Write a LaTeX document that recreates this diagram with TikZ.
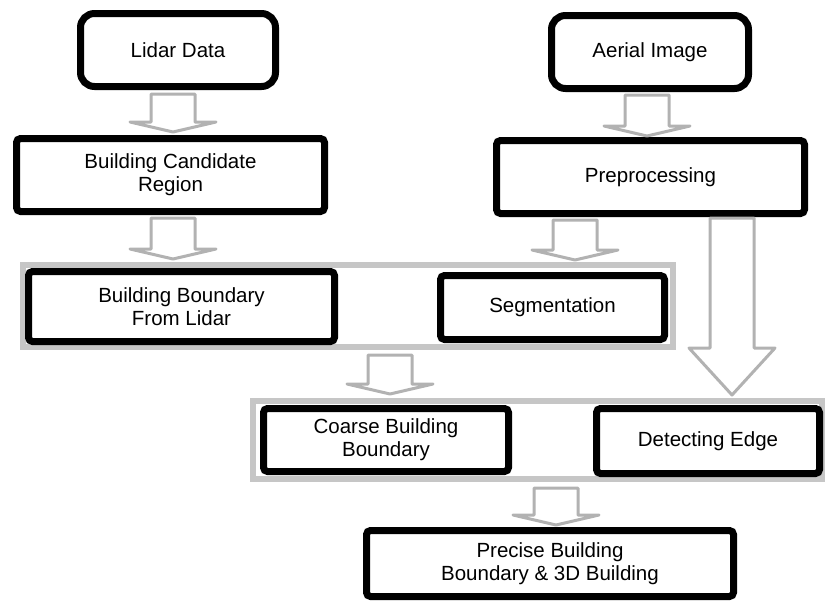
\documentclass[tikz,border=0pt]{standalone}
\usepackage{fontspec}
\setmainfont{Liberation Sans}
\usetikzlibrary{calc}

\tikzset{
  srcbox/.style={draw, line width=7pt, fill=white, rounded corners=14pt, align=center, inner sep=0pt},
  procbox/.style={draw, line width=7pt, fill=white, rounded corners=4pt, align=center, inner sep=0pt},
  band/.style={draw=gray!45, line width=6pt, inner sep=0pt},
  fatarrow/.style={draw=gray!60, line width=3pt, fill=white, line join=round,
    to path={let \p1=(\tikztostart), \p2=(\tikztotarget) in
      (\x1-22pt,\y1) -- (\x1+22pt,\y1) -- (\x1+22pt,\y2+#1) -- (\x1+43pt,\y2+#1)
      -- (\x1,\y2) -- (\x1-43pt,\y2+#1) -- (\x1-22pt,\y2+#1) -- cycle}},
  fatarrow/.default=10pt
}

\begin{document}
\begin{tikzpicture}[x=1pt,y=-1pt,font=\fontsize{20.5}{23}\selectfont]
  \useasboundingbox (0,0) rectangle (825,603);

  % gray frames round the two middle rows
  \node[band, minimum width=650pt, minimum height=82pt] (grp1) at (348,306) {};
  \node[band, minimum width=569pt, minimum height=78pt] (grp2) at (537.5,440) {};

  % input data
  \node[srcbox, minimum width=195pt, minimum height=73pt] (lidar) at (178,50) {Lidar Data};
  \node[srcbox, minimum width=197pt, minimum height=73pt] (aerial) at (650,52) {Aerial Image};

  % processing steps
  \node[procbox, minimum width=308pt, minimum height=73pt] (bcr) at (170.5,175) {Building Candidate\\Region};
  \node[procbox, minimum width=308pt, minimum height=73pt] (pre) at (650.5,177) {Preprocessing};
  \node[procbox, minimum width=306pt, minimum height=70pt] (bbfl) at (181.5,306.5) {Building Boundary\\From Lidar};
  \node[procbox, minimum width=224pt, minimum height=64pt] (seg) at (552.5,307.5) {Segmentation};
  \node[procbox, minimum width=245pt, minimum height=63pt] (coarse) at (386,440) {Coarse Building\\Boundary};
  \node[procbox, minimum width=223pt, minimum height=65pt] (detect) at (708,441) {Detecting Edge};
  \node[procbox, minimum width=367pt, minimum height=66pt] (precise) at (550,563.5) {Precise Building\\Boundary \& 3D Building};

  % block arrows
  \draw[fatarrow] ($(lidar.south)+(-5,4)$) to ($(bcr.north)+(0,-3)$);
  \draw[fatarrow] ($(aerial.south)+(-3,3)$) to ($(pre.north)+(0,-1)$);
  \draw[fatarrow] ($(bcr.south)+(2.5,3)$) to ($(grp1.north)+(0,-3)$);
  \draw[fatarrow] ($(seg.north |- pre.south)+(22.5,3)$) to ($(grp1.north)+(0,-2)$);
  \draw[fatarrow] ($(coarse.north |- grp1.south)+(4,5)$) to ($(grp2.north)+(0,-4)$);
  \draw[fatarrow=47pt] ($(detect.north |- pre.south)+(24,1)$) to ($(grp2.north)+(0,-3)$);
  \draw[fatarrow] ($(precise.north |- grp2.south)+(6,6)$) to ($(precise.north)+(0,-2)$);
\end{tikzpicture}
\end{document}
